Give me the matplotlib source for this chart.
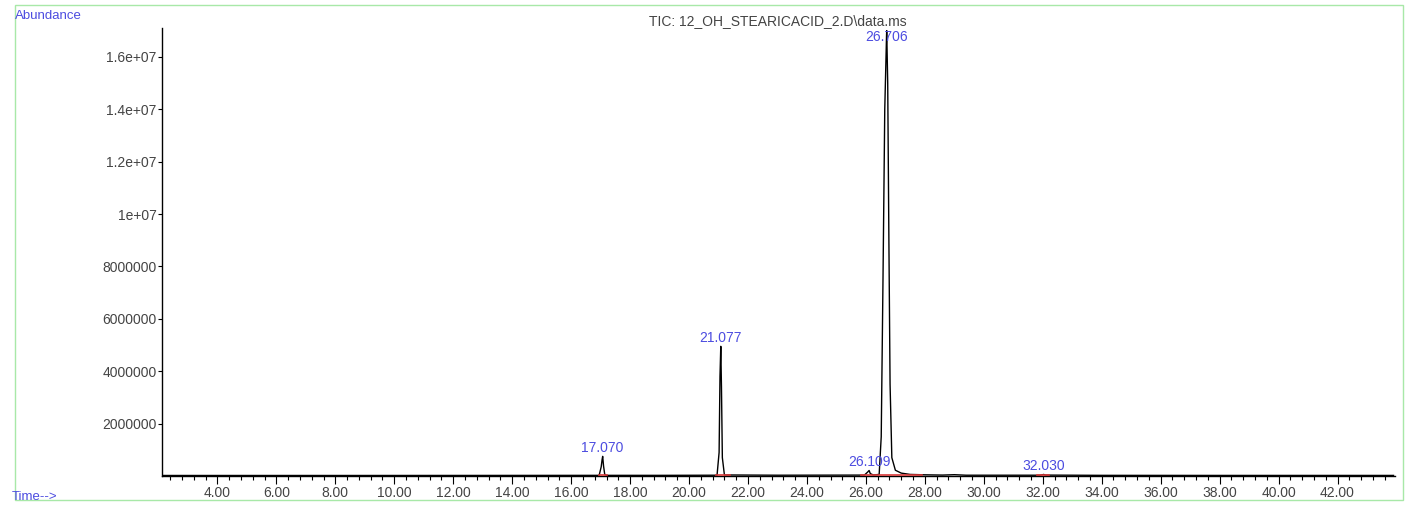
import matplotlib
matplotlib.use('Agg')
import matplotlib.pyplot as plt
from matplotlib.patches import Rectangle
from matplotlib.ticker import MultipleLocator

plt.rcParams['font.family'] = ['Liberation Sans', 'DejaVu Sans']

# TIC trace (time in min, abundance)
tiempo = [2.10, 5.0, 9.0, 13.0, 16.95, 17.02, 17.05, 17.07, 17.10, 17.14, 17.20,
          19.0, 20.95, 21.02, 21.05, 21.077, 21.10, 21.13, 21.20, 23.0, 25.95,
          26.06, 26.109, 26.15, 26.25, 26.45, 26.52, 26.58, 26.64, 26.70, 26.706,
          26.74, 26.78, 26.82, 26.88, 27.00, 27.20, 27.50, 28.00, 28.60, 29.00,
          29.40, 31.90, 32.00, 32.03, 32.08, 34.0, 38.0, 43.9]
abundancia = [20000, 20000, 20000, 22000, 25000, 350000, 620000, 750000, 380000, 60000, 25000,
              25000, 30000, 900000, 3800000, 4950000, 3400000, 700000, 40000, 30000, 35000,
              150000, 210000, 90000, 40000, 60000, 1500000, 7500000, 14000000, 16800000, 17000000,
              15000000, 9000000, 3500000, 700000, 220000, 110000, 60000, 45000, 35000, 50000,
              30000, 30000, 50000, 60000, 35000, 25000, 22000, 22000]

# labelled peaks
picos_rt = [17.070, 21.077, 26.109, 26.706, 32.030]
picos_alto = [750000, 4950000, 210000, 17000000, 60000]

# integration baselines (start, end)
base_ini = [16.95, 20.90, 25.85, 31.80]
base_fin = [17.20, 21.40, 27.90, 32.20]

ytick_vals = [2000000, 4000000, 6000000, 8000000, 10000000, 12000000, 14000000, 16000000]
ytick_labels = ['2000000', '4000000', '6000000', '8000000', '1e+07', '1.2e+07', '1.4e+07', '1.6e+07']
xtick_vals = [4, 6, 8, 10, 12, 14, 16, 18, 20, 22, 24, 26, 28, 30, 32, 34, 36, 38, 40, 42]

fig = plt.figure(figsize=(14.06, 5.05), dpi=100)
ax = fig.add_axes([162 / 1406, 1 - 476 / 505, 1233 / 1406, 448 / 505])

ax.plot(tiempo, abundancia, color='black', linewidth=1.0, zorder=3)
for a, b in zip(base_ini, base_fin):
    ax.plot([a, b], [30000, 30000], color='#d83838', linewidth=1.2, zorder=4)

ymax = 1.71e7
ax.set_xlim(2.12, 43.95)
ax.set_ylim(0, ymax)

azul = '#4c4ce0'
for rt, h in zip(picos_rt, picos_alto):
    y = min(h, ymax * 0.962)
    ax.annotate('%.3f' % rt, (rt, y), xytext=(0, 1), textcoords='offset points',
                ha='center', va='bottom', color=azul, fontsize=10, zorder=5)

ax.set_yticks(ytick_vals)
ax.set_yticklabels(ytick_labels)
ax.set_xticks(xtick_vals)
ax.set_xticklabels(['%.2f' % v for v in xtick_vals])
ax.xaxis.set_minor_locator(MultipleLocator(0.4))

ax.spines['top'].set_visible(False)
ax.spines['right'].set_visible(False)
ax.spines['left'].set_linewidth(1.0)
ax.spines['bottom'].set_linewidth(1.0)
ax.tick_params(axis='y', direction='out', length=3, width=0.8, labelsize=10, labelcolor='#444444', pad=1)
ax.tick_params(axis='x', which='major', direction='out', length=6, width=0.8, labelsize=10,
               labelcolor='#444444', pad=1)
ax.tick_params(axis='x', which='minor', direction='out', length=3, width=0.8)

# green frame around the whole plot
fig.patches.append(Rectangle((15 / 1406, 5 / 505), 1388 / 1406, 495 / 505, transform=fig.transFigure,
                             fill=False, edgecolor='#a8e8a8', linewidth=1.0))

fig.text(15 / 1406, 1 - 16 / 505, 'Abundance', color=azul, fontsize=9.5, ha='left', va='center')
fig.text(12 / 1406, 1 - 497 / 505, 'Time-->', color=azul, fontsize=9.5, ha='left', va='center')
fig.text(778 / 1406, 1 - 21 / 505, 'TIC: 12_OH_STEARICACID_2.D\\data.ms', color='#444444',
         fontsize=10, ha='center', va='center')

plt.savefig('out.png', dpi=100)
